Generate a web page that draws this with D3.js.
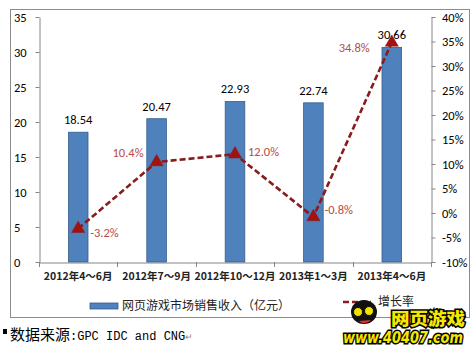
<!DOCTYPE html>
<html>
<head>
<meta charset="utf-8">
<script src="https://cdn.jsdelivr.net/npm/d3@7/dist/d3.min.js"></script>
<style>
body{margin:0;background:#fff;}
svg{display:block;}
</style>
</head>
<body>
<svg id="chart" width="475" height="351"></svg>
<script>
var categories=["2012年4～6月","2012年7～9月","2012年10～12月","2013年1～3月","2013年4～6月"];
var revenue=[18.54,20.47,22.93,22.74,30.66];
var growth=[-3.2,10.4,12.0,-0.8,34.8];
var leftTicks=[0,5,10,15,20,25,30,35];
var rightTicks=[-10,-5,0,5,10,15,20,25,30,35,40];
// label placement next to each growth point: [dx, dy, anchor]
var growthLabelPos=[[12,8,"start"],[-13,-5,"end"],[13,2,"start"],[11,-3,"start"],[-22,10,"end"]];

var numFont="Carlito, Lato, 'Open Sans', sans-serif";
var cjkFont="'Noto Sans CJK SC', sans-serif";

var svg=d3.select("#chart");

// frame
svg.append("rect").attr("x",10.5).attr("y",9.5).attr("width",459).attr("height",308)
	.attr("fill","#fff").attr("stroke","#8c8c8c").attr("stroke-width",1);

var x=d3.scaleBand().domain(categories).range([39,431]).padding(0);
var yL=d3.scaleLinear().domain([0,35]).range([262,17]);
var yR=d3.scaleLinear().domain([-10,40]).range([262,17]);

// left axis
var gl=svg.append("g").attr("transform","translate(39.5,0)")
	.call(d3.axisLeft(yL).tickValues(leftTicks).tickSize(4).tickSizeOuter(0));
gl.selectAll("text").attr("x",-25.5).attr("text-anchor","start")
	.attr("font-family",numFont).attr("font-size",12.5).attr("fill","#000");

// right axis
var gr=svg.append("g").attr("transform","translate(431.5,0)")
	.call(d3.axisRight(yR).tickValues(rightTicks).tickSize(4).tickSizeOuter(0).tickFormat(d=>d+"%"));
gr.selectAll("text").attr("x",10.5).attr("text-anchor","start")
	.attr("font-family",numFont).attr("font-size",12.5).attr("fill","#000");

[gl,gr].forEach(g=>{
	g.select(".domain").attr("stroke","#868686");
	g.selectAll(".tick line").attr("stroke","#868686");
});

// x axis
var gx=svg.append("g").attr("transform","translate(0,262.5)")
	.call(d3.axisBottom(x).tickSize(0).tickSizeOuter(0));
gx.select(".domain").attr("stroke","#868686");
gx.selectAll("text").attr("y",10).attr("font-family",cjkFont).attr("font-size",10.5)
	.attr("font-weight","bold").attr("fill","#222");
var bounds=categories.map(c=>x(c)).concat([x.range()[1]]);
svg.append("g").selectAll("line").data(bounds).enter().append("line")
	.attr("x1",d=>Math.round(d)+0.5).attr("x2",d=>Math.round(d)+0.5)
	.attr("y1",262).attr("y2",267).attr("stroke","#868686");

// bars
var bw=x.bandwidth()*0.25;
svg.append("g").selectAll("rect").data(revenue).enter().append("rect")
	.attr("x",(d,i)=>x(categories[i])+x.bandwidth()/2-bw/2)
	.attr("y",d=>yL(d))
	.attr("width",bw)
	.attr("height",d=>yL(0)-yL(d))
	.attr("fill","#4f81bd").attr("stroke","#385d8a").attr("stroke-width",0.8);

svg.append("g").selectAll("text").data(revenue).enter().append("text")
	.attr("x",(d,i)=>x(categories[i])+x.bandwidth()/2)
	.attr("y",d=>yL(d)-8)
	.attr("text-anchor","middle")
	.attr("font-family",numFont).attr("font-size",12.5).attr("fill","#000")
	.text(d=>d.toFixed(2));

// growth line
var cx=(d,i)=>x(categories[i])+x.bandwidth()/2;
var line=d3.line().x((d,i)=>cx(d,i)).y(d=>yR(d));
svg.append("path").datum(growth).attr("d",line)
	.attr("fill","none").attr("stroke","#8b1a1a").attr("stroke-width",2.6)
	.attr("stroke-dasharray","6,3");

var tri=d3.symbol().type(d3.symbolTriangle).size(75);
svg.append("g").selectAll("path").data(growth).enter().append("path")
	.attr("d",tri)
	.attr("transform",(d,i)=>"translate("+cx(d,i)+","+yR(d)+")")
	.attr("fill","#a3120f").attr("stroke","#8b1a1a").attr("stroke-width",0.5);

svg.append("g").selectAll("text").data(growth).enter().append("text")
	.attr("x",(d,i)=>cx(d,i)+growthLabelPos[i][0])
	.attr("y",(d,i)=>yR(d)+growthLabelPos[i][1])
	.attr("text-anchor",(d,i)=>growthLabelPos[i][2])
	.attr("font-family",numFont).attr("font-size",12.5).attr("fill","#b94a45")
	.text(d=>d.toFixed(1)+"%");

// legend
svg.append("rect").attr("x",90).attr("y",303).attr("width",28).attr("height",6)
	.attr("fill","#4f81bd").attr("stroke","#385d8a").attr("stroke-width",0.8);
svg.append("text").attr("x",122).attr("y",309.5).attr("font-family",cjkFont)
	.attr("font-size",12).attr("fill","#222").text("网页游戏市场销售收入（亿元）");
svg.append("line").attr("x1",343).attr("x2",371).attr("y1",302).attr("y2",302)
	.attr("stroke","#8b1a1a").attr("stroke-width",2.6).attr("stroke-dasharray","6,3");
svg.append("text").attr("x",378).attr("y",306).attr("font-family",cjkFont)
	.attr("font-size",12).attr("fill","#222").text("增长率");

// watermark logo
var logo=svg.append("g");
logo.append("ellipse").attr("cx",364).attr("cy",312).attr("rx",13).attr("ry",12).attr("fill","#111");
logo.append("circle").attr("cx",358).attr("cy",312).attr("r",4.5).attr("fill","#f2e200").attr("stroke","#111");
logo.append("circle").attr("cx",369).attr("cy",311).attr("r",4.5).attr("fill","#f2e200").attr("stroke","#111");
logo.append("path").attr("d","M359,321 Q365,326 371,320").attr("fill","#e03030");
logo.append("text").attr("x",391).attr("y",325).attr("font-family",cjkFont).attr("font-weight","900")
	.attr("font-size",17).attr("fill","#f5e800").attr("stroke","#000").attr("stroke-width",3)
	.attr("paint-order","stroke").attr("textLength",74).attr("lengthAdjust","spacingAndGlyphs").text("网页游戏");
logo.append("text").attr("x",343).attr("y",343).attr("font-family","'DejaVu Sans', sans-serif").attr("font-weight","bold")
	.attr("font-style","italic").attr("font-size",15).attr("fill","#f5e800").attr("stroke","#000")
	.attr("stroke-width",3).attr("paint-order","stroke").attr("textLength",120).attr("lengthAdjust","spacingAndGlyphs")
	.text("www.40407.com");

// footer
svg.append("rect").attr("x",3).attr("y",329).attr("width",4).attr("height",5).attr("fill","#000");
var ft=svg.append("text").attr("x",10).attr("y",340).attr("fill","#000");
ft.append("tspan").attr("font-family",cjkFont).attr("font-size",15).text("数据来源");
ft.append("tspan").attr("font-family","'Liberation Mono', monospace").attr("font-size",12).text(":GPC IDC and CNG");
ft.append("tspan").attr("font-family",cjkFont).attr("font-size",9).attr("fill","#888").text("↵");
</script>
</body>
</html>
